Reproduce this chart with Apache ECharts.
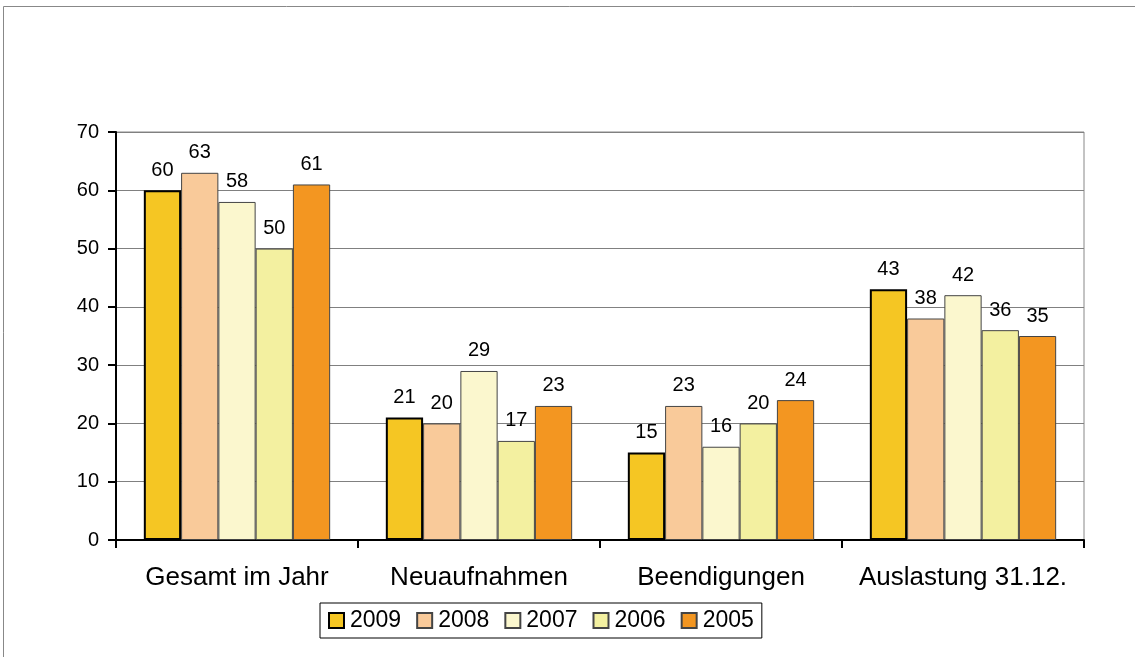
<!DOCTYPE html>
<html>
<head>
<meta charset="utf-8">
<script src="https://cdn.jsdelivr.net/npm/echarts@6/dist/echarts.min.js"></script>
<style>
  html, body { margin: 0; padding: 0; background: #fff; }
  #chart { width: 1135px; height: 657px; }
</style>
</head>
<body>
<div id="chart"></div>
<script>
// Daten
const categories = ['Gesamt im Jahr', 'Neuaufnahmen', 'Beendigungen', 'Auslastung 31.12.']
const years = ['2009', '2008', '2007', '2006', '2005']
const values2009 = [60, 21, 15, 43]
const values2008 = [63, 20, 23, 38]
const values2007 = [58, 29, 16, 42]
const values2006 = [50, 17, 20, 36]
const values2005 = [61, 23, 24, 35]

const seriesValues = [values2009, values2008, values2007, values2006, values2005]
const colors = ['#F5C623', '#F9CA9A', '#FBF7CE', '#F3F0A0', '#F39621']

const font = 'Liberation Sans, Arial, sans-serif'

const chart = echarts.init(document.getElementById('chart'))

const series = years.map((y, i) => ({
  name: y,
  type: 'bar',
  data: seriesValues[i],
  barGap: '0%',
  barCategoryGap: '23%',
  itemStyle: {
    color: colors[i],
    borderColor: i === 0 ? '#000' : '#444',
    borderWidth: i === 0 ? 2 : 1
  },
  label: {
    show: true,
    position: 'top',
    distance: 10,
    color: '#000',
    fontSize: 20,
    fontFamily: font
  }
}))

chart.setOption({
  backgroundColor: '#fff',
  animation: false,
  graphic: [
    {
      type: 'rect',
      shape: { x: 3.5, y: 6.5, width: 1200, height: 800 },
      style: { fill: null, stroke: '#888', lineWidth: 1 },
      silent: true
    }
  ],
  grid: {
    left: 116,
    right: 51,
    top: 132,
    bottom: 117,
    show: true,
    borderColor: '#888',
    borderWidth: 1
  },
  legend: {
    data: years,
    left: 320,
    top: 603,
    itemWidth: 15,
    itemHeight: 15,
    itemGap: 15,
    padding: [6, 8],
    borderColor: '#000',
    borderWidth: 1,
    icon: 'rect',
    textStyle: { fontSize: 23, fontFamily: font, color: '#000', padding: [0, 0, 0, 1] }
  },
  xAxis: {
    type: 'category',
    data: categories,
    axisLine: { lineStyle: { color: '#000', width: 2 } },
    axisTick: { show: true, interval: 0, length: 8, lineStyle: { color: '#000', width: 2 } },
    axisLabel: { interval: 0, fontSize: 26, fontFamily: font, color: '#000', margin: 25 }
  },
  yAxis: {
    type: 'value',
    min: 0,
    max: 70,
    interval: 10,
    axisLine: { show: true, lineStyle: { color: '#000', width: 2 } },
    axisTick: { show: true, length: 8, lineStyle: { color: '#000', width: 2 } },
    axisLabel: { fontSize: 20, fontFamily: font, color: '#000', margin: 17 },
    splitLine: { lineStyle: { color: '#808080', width: 1 } }
  },
  series: series
})
</script>
</body>
</html>
